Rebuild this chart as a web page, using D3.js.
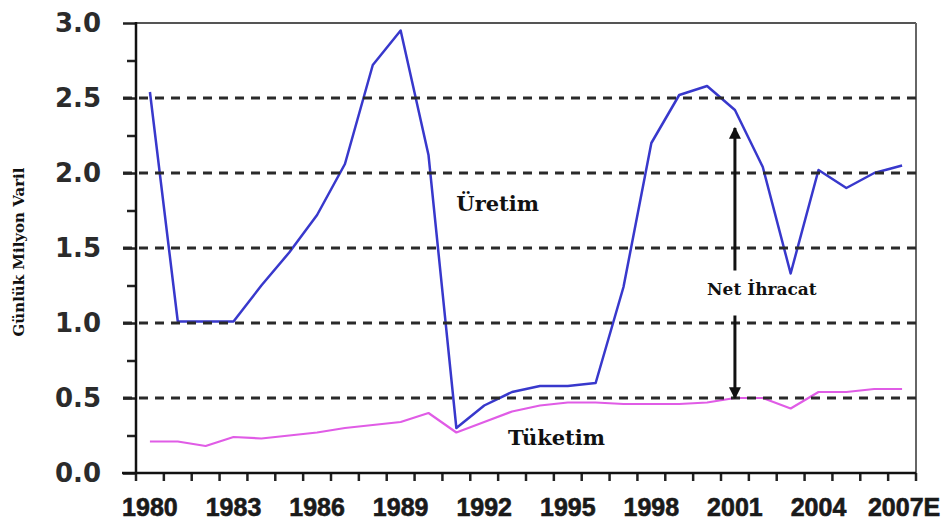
<!DOCTYPE html>
<html>
<head>
<meta charset="utf-8">
<script src="https://cdn.jsdelivr.net/npm/d3@7"></script>
<style>
  html, body { margin: 0; padding: 0; background: #fff; }
</style>
</head>
<body>
<div id="chart"></div>
<script>
// yearly values, million barrels per day
var years = [1980, 1981, 1982, 1983, 1984, 1985, 1986, 1987, 1988, 1989,
             1990, 1991, 1992, 1993, 1994, 1995, 1996, 1997, 1998, 1999,
             2000, 2001, 2002, 2003, 2004, 2005, 2006, 2007];
var uretim = [2.54, 1.01, 1.01, 1.01, 1.25, 1.47, 1.72, 2.06, 2.72, 2.95,
              2.12, 0.30, 0.45, 0.54, 0.58, 0.58, 0.60, 1.24, 2.20, 2.52,
              2.58, 2.42, 2.04, 1.33, 2.02, 1.90, 2.00, 2.05];
var tuketim = [0.21, 0.21, 0.18, 0.24, 0.23, 0.25, 0.27, 0.30, 0.32, 0.34,
               0.40, 0.27, 0.34, 0.41, 0.45, 0.47, 0.47, 0.46, 0.46, 0.46,
               0.47, 0.50, 0.50, 0.43, 0.54, 0.54, 0.56, 0.56];
var labelYears = [1980, 1983, 1986, 1989, 1992, 1995, 1998, 2001, 2004, 2007];
var yTicks = [0, 0.5, 1, 1.5, 2, 2.5, 3];
var yMinor = [0.25, 0.75, 1.25, 1.75, 2.25, 2.75];
var gridValues = [0.5, 1, 1.5, 2, 2.5];

var W = 947, H = 529;
// plot box (note: "top" is reserved on window, so prefix these)
var pLeft = 136, pRight = 916, pTop = 23, pBottom = 473;

var svg = d3.select("#chart").append("svg")
    .attr("width", W)
    .attr("height", H);

var x = d3.scaleBand().domain(years).range([pLeft, pRight]).padding(0);
// continuous version of the same axis, for the annotations
var xc = d3.scaleLinear().domain([years[0] - 0.5, years[years.length - 1] + 0.5]).range([pLeft, pRight]);
var y = d3.scaleLinear().domain([0, 3]).range([pBottom, pTop]);

function cx(yr) { return x(yr) + x.bandwidth() / 2; }

// frame: top + right
svg.append("line").attr("x1", pLeft).attr("x2", pRight).attr("y1", y(3)).attr("y2", y(3))
    .attr("stroke", "#555").attr("stroke-width", 2);
svg.append("line").attr("x1", pRight).attr("x2", pRight).attr("y1", y(3)).attr("y2", pBottom)
    .attr("stroke", "#666").attr("stroke-width", 2);

// data lines
var line = d3.line()
    .x(function (d) { return cx(d.year); })
    .y(function (d) { return y(d.v); });

var prodData = years.map(function (yr, i) { return {year: yr, v: uretim[i]}; });
var consData = years.map(function (yr, i) { return {year: yr, v: tuketim[i]}; });

svg.append("path").attr("d", line(prodData))
    .attr("fill", "none")
    .attr("stroke", "#3838cc")
    .attr("stroke-width", 2.5)
    .attr("stroke-linejoin", "round");

svg.append("path").attr("d", line(consData))
    .attr("fill", "none")
    .attr("stroke", "#e05ce6")
    .attr("stroke-width", 2.2)
    .attr("stroke-linejoin", "round");

// dashed gridlines (on top of the lines, like the original)
svg.selectAll(".grid")
    .data(gridValues)
    .enter().append("line")
    .attr("class", "grid")
    .attr("x1", pLeft - 13)
    .attr("x2", pRight)
    .attr("y1", function (d) { return y(d); })
    .attr("y2", function (d) { return y(d); })
    .attr("stroke", "#2a2a2a")
    .attr("stroke-width", 3)
    .attr("stroke-dasharray", "9,7");

// y axis
var yAxis = d3.axisLeft(y)
    .tickValues(yTicks)
    .tickFormat(d3.format(".1f"))
    .tickSize(13)
    .tickPadding(22);
var gy = svg.append("g").attr("transform", "translate(" + pLeft + ",0)").call(yAxis);
gy.select(".domain").remove();
gy.selectAll(".tick line").attr("stroke", "#222").attr("stroke-width", 2.5);
gy.selectAll(".tick text")
    .attr("fill", "#2b2b2b")
    .style("font-family", "'DejaVu Sans', sans-serif")
    .style("font-weight", "bold")
    .style("font-size", "26px");

var yMinorAxis = d3.axisLeft(y).tickValues(yMinor).tickSize(9).tickFormat("");
var gym = svg.append("g").attr("transform", "translate(" + pLeft + ",0)").call(yMinorAxis);
gym.select(".domain").remove();
gym.selectAll(".tick line").attr("stroke", "#222").attr("stroke-width", 2.5);

svg.append("line").attr("x1", pLeft).attr("x2", pLeft).attr("y1", y(3) - 1).attr("y2", pBottom)
    .attr("stroke", "#111").attr("stroke-width", 2.5);

// x axis
var xAxis = d3.axisBottom(x)
    .tickValues(labelYears)
    .tickSize(0)
    .tickPadding(25)
    .tickFormat(function (d) { return d === 2007 ? "2007E" : d; });
var gx = svg.append("g").attr("transform", "translate(0," + pBottom + ")").call(xAxis);
gx.select(".domain").remove();
gx.selectAll(".tick text")
    .attr("fill", "#1a1a1a")
    .attr("stroke", "#1a1a1a")
    .attr("stroke-width", 0.6)
    .style("font-family", "'Liberation Sans', Arial, sans-serif")
    .style("font-weight", "bold")
    .style("font-size", "25px")
    .attr("dx", function (d) { return d === 2007 ? 2 : 0; });

// yearly ticks on the band edges
var edges = years.map(function (yr) { return x(yr); }).concat([pRight]);
svg.selectAll(".xtick")
    .data(edges)
    .enter().append("line")
    .attr("class", "xtick")
    .attr("x1", function (d) { return d; })
    .attr("x2", function (d) { return d; })
    .attr("y1", pBottom)
    .attr("y2", pBottom + 8)
    .attr("stroke", "#222")
    .attr("stroke-width", 2.5);

svg.append("line").attr("x1", pLeft - 14).attr("x2", pRight).attr("y1", pBottom).attr("y2", pBottom)
    .attr("stroke", "#111").attr("stroke-width", 2.5);

// y title
svg.append("text")
    .attr("transform", "translate(24,252) rotate(-90)")
    .attr("text-anchor", "middle")
    .style("font-family", "'DejaVu Serif', serif")
    .style("font-weight", "bold")
    .style("font-size", "15px")
    .attr("fill", "#111")
    .text("Günlük Milyon Varil");

// annotations
var serif = "'DejaVu Serif', serif";
svg.append("text")
    .attr("x", xc(1991)).attr("y", y(1.75))
    .style("font-family", serif).style("font-weight", "bold").style("font-size", "21px")
    .attr("fill", "#111")
    .text("Üretim");

svg.append("text")
    .attr("x", xc(1992.85)).attr("y", y(0.19))
    .style("font-family", serif).style("font-weight", "bold").style("font-size", "21px")
    .attr("fill", "#111")
    .text("Tüketim");

svg.append("text")
    .attr("x", xc(2000)).attr("y", y(1.19))
    .style("font-family", serif).style("font-weight", "bold").style("font-size", "17px")
    .attr("fill", "#111")
    .text("Net İhracat");

// net export arrow
var defs = svg.append("defs");
defs.append("marker")
    .attr("id", "head")
    .attr("viewBox", "0 0 10 10")
    .attr("refX", 9).attr("refY", 5)
    .attr("markerWidth", 4).attr("markerHeight", 5)
    .attr("markerUnits", "strokeWidth")
    .attr("orient", "auto")
    .append("path").attr("d", "M0,0 L10,5 L0,10 Z").attr("fill", "#111");

var ax = xc(2001);
svg.append("line")
    .attr("x1", ax).attr("x2", ax)
    .attr("y1", y(1.35)).attr("y2", y(2.3))
    .attr("stroke", "#111").attr("stroke-width", 3)
    .attr("marker-end", "url(#head)");
svg.append("line")
    .attr("x1", ax).attr("x2", ax)
    .attr("y1", y(1.05)).attr("y2", y(0.5))
    .attr("stroke", "#111").attr("stroke-width", 3)
    .attr("marker-end", "url(#head)");
</script>
</body>
</html>
